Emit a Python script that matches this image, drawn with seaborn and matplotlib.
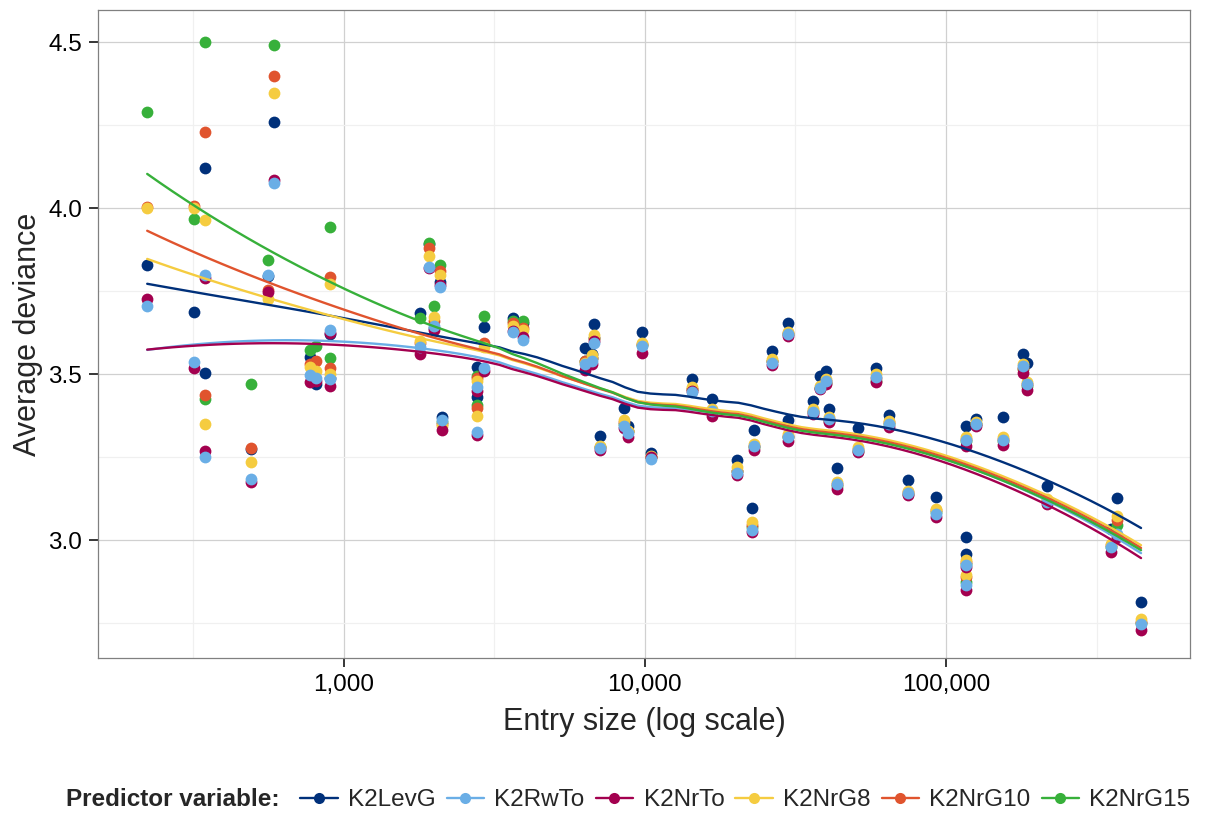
import numpy as np
import pandas as pd
import matplotlib
matplotlib.use("Agg")
import matplotlib.pyplot as plt
import seaborn as sns
from matplotlib.lines import Line2D
from matplotlib.ticker import FixedLocator, NullFormatter, FuncFormatter

# ---------------- data ----------------
predictors = ["K2LevG", "K2RwTo", "K2NrTo", "K2NrG8", "K2NrG10", "K2NrG15"]
colors = ["#00307a", "#6aaee6", "#a3004f", "#f5cc40", "#e0542e", "#37b03a"]

entry_size = [223, 319, 347, 347, 493, 588, 562, 774, 810, 902, 902,
              1795, 1922, 1997, 2091, 2123, 2774, 2774, 2927, 3652, 3943,
              6332, 6681, 6783, 7101, 8531, 8795, 9788, 10486, 14347, 16714,
              20230, 22692, 23040, 26435, 29880, 29880, 36165, 38150, 39940,
              40870, 43440, 50990, 58540, 64640, 74740, 92580, 116460, 116460,
              116460, 125700, 154500, 179960, 185550, 216200, 352600, 369200,
              443600]

k2levg = [3.828, 3.687, 4.121, 3.503, 3.274, 4.261, 3.795, 3.552, 3.470, 3.620, 3.490,
          3.684, 3.892, 3.640, 3.778, 3.371, 3.522, 3.432, 3.643, 3.670, 3.655,
          3.580, 3.560, 3.651, 3.313, 3.398, 3.343, 3.627, 3.262, 3.485, 3.425,
          3.241, 3.098, 3.331, 3.570, 3.655, 3.361, 3.420, 3.495, 3.510,
          3.395, 3.219, 3.339, 3.520, 3.376, 3.181, 3.131, 3.344, 3.010,
          2.960, 3.366, 3.370, 3.560, 3.534, 3.163, 3.035, 3.126,
          2.814]

k2rwto = [3.705, 3.537, 3.800, 3.250, 3.184, 4.077, 3.800, 3.497, 3.490, 3.633, 3.485,
          3.582, 3.823, 3.645, 3.762, 3.361, 3.462, 3.325, 3.520, 3.627, 3.602,
          3.530, 3.539, 3.595, 3.277, 3.343, 3.322, 3.584, 3.244, 3.447, 3.390,
          3.204, 3.032, 3.283, 3.535, 3.620, 3.311, 3.385, 3.460, 3.480,
          3.364, 3.171, 3.273, 3.492, 3.351, 3.143, 3.080, 3.301, 2.925,
          2.864, 3.351, 3.301, 3.524, 3.472, 3.115, 2.980, 3.020,
          2.749]

k2nrto = [3.726, 3.518, 3.790, 3.268, 3.175, 4.084, 3.748, 3.477, 3.480, 3.625, 3.464,
          3.560, 3.820, 3.633, 3.770, 3.331, 3.450, 3.316, 3.510, 3.630, 3.612,
          3.512, 3.530, 3.600, 3.271, 3.337, 3.310, 3.564, 3.250, 3.450, 3.375,
          3.196, 3.025, 3.271, 3.527, 3.614, 3.300, 3.380, 3.455, 3.470,
          3.355, 3.155, 3.265, 3.477, 3.340, 3.135, 3.070, 3.285, 2.920,
          2.850, 3.345, 3.288, 3.504, 3.454, 3.110, 2.965, 3.010,
          2.731]

k2nrg8 = [4.000, 4.000, 3.964, 3.349, 3.235, 4.348, 3.726, 3.522, 3.510, 3.771, 3.500,
          3.600, 3.855, 3.672, 3.800, 3.345, 3.480, 3.373, 3.582, 3.645, 3.633,
          3.535, 3.557, 3.617, 3.285, 3.361, 3.330, 3.594, 3.255, 3.461, 3.395,
          3.220, 3.055, 3.290, 3.545, 3.628, 3.320, 3.395, 3.465, 3.485,
          3.370, 3.175, 3.280, 3.500, 3.360, 3.150, 3.095, 3.310, 2.940,
          2.895, 3.355, 3.311, 3.530, 3.477, 3.125, 2.990, 3.073,
          2.764]

k2nrg10 = [4.004, 4.006, 4.230, 3.437, 3.277, 4.398, 3.755, 3.530, 3.540, 3.793, 3.518,
           3.593, 3.880, 3.660, 3.810, 3.350, 3.490, 3.400, 3.593, 3.655, 3.640,
           3.540, 3.550, 3.610, 3.280, 3.355, 3.330, 3.590, 3.250, 3.455, 3.390,
           3.210, 3.045, 3.285, 3.540, 3.625, 3.315, 3.390, 3.460, 3.480,
           3.365, 3.170, 3.275, 3.490, 3.355, 3.145, 3.090, 3.305, 2.935,
           2.890, 3.350, 3.305, 3.520, 3.470, 3.120, 2.985, 3.060,
           2.755]

k2nrg15 = [4.289, 3.967, 4.500, 3.425, 3.470, 4.491, 3.844, 3.572, 3.585, 3.944, 3.548,
           3.669, 3.895, 3.705, 3.828, 3.355, 3.494, 3.407, 3.676, 3.660, 3.661,
           3.540, 3.550, 3.610, 3.280, 3.350, 3.330, 3.588, 3.250, 3.455, 3.385,
           3.210, 3.040, 3.280, 3.540, 3.620, 3.310, 3.385, 3.460, 3.475,
           3.360, 3.165, 3.270, 3.480, 3.350, 3.140, 3.085, 3.300, 2.930,
           2.875, 3.350, 3.300, 3.515, 3.465, 3.118, 2.980, 3.045,
           2.750]

series = {"K2LevG": k2levg, "K2RwTo": k2rwto, "K2NrTo": k2nrto,
          "K2NrG8": k2nrg8, "K2NrG10": k2nrg10, "K2NrG15": k2nrg15}

df = pd.concat([pd.DataFrame({"size": entry_size, "deviance": v, "predictor": k})
                for k, v in series.items()], ignore_index=True)
palette = dict(zip(predictors, colors))


# ---------------- loess smoother (as ggplot geom_smooth, span .75, degree 2) ----------------
def loess(x, y, xs, span=0.75):
    x = np.asarray(x, float)
    y = np.asarray(y, float)
    n = len(x)
    q = int(np.floor(n * span))
    out = []
    for x0 in xs:
        d = np.abs(x - x0)
        h = np.sort(d)[q - 1]
        w = np.clip(1 - (d / h) ** 3, 0, None) ** 3
        X = np.column_stack([np.ones(n), x - x0, (x - x0) ** 2])
        sw = np.sqrt(w)
        beta = np.linalg.lstsq(X * sw[:, None], y * sw, rcond=None)[0]
        out.append(beta[0])
    return np.array(out)


lx = np.log10(np.asarray(entry_size, float))
grid = np.linspace(lx.min(), lx.max(), 80)
smooth = pd.concat([pd.DataFrame({"size": 10 ** grid,
                                  "deviance": loess(lx, series[p], grid),
                                  "predictor": p}) for p in predictors],
                   ignore_index=True)

# ---------------- figure ----------------
sns.set_theme(style="white")
plt.rcParams["font.family"] = ["Liberation Sans", "DejaVu Sans"]

fig = plt.figure(figsize=(12.18, 8.14), dpi=100)
ax = fig.add_axes([98 / 1218, 1 - 658 / 814, (1190 - 98) / 1218, (658 - 10) / 814])
ax.set_xscale("log")

draw_order = ["K2LevG", "K2NrG15", "K2NrG10", "K2NrG8", "K2NrTo", "K2RwTo"]
for p in draw_order:
    sns.scatterplot(data=df[df.predictor == p], x="size", y="deviance", color=palette[p],
                    s=72, linewidth=0, ax=ax, legend=False, zorder=3)
for p in predictors:
    sns.lineplot(data=smooth[smooth.predictor == p], x="size", y="deviance",
                 color=palette[p], lw=1.7, ax=ax, legend=False, zorder=4,
                 estimator=None, sort=False)

ax.set_xlim(10 ** 2.185, 10 ** 5.8095)
ax.set_ylim(4.5 - (658 - 42.3) / 332, 4.5 + (42.3 - 10) / 332)

ax.xaxis.set_major_locator(FixedLocator([1e3, 1e4, 1e5]))
ax.xaxis.set_major_formatter(FuncFormatter(lambda v, p: f"{int(round(v)):,}"))
ax.xaxis.set_minor_locator(FixedLocator([10 ** 2.5, 10 ** 3.5, 10 ** 4.5, 10 ** 5.5]))
ax.xaxis.set_minor_formatter(NullFormatter())
ax.yaxis.set_major_locator(FixedLocator([3.0, 3.5, 4.0, 4.5]))
ax.yaxis.set_major_formatter(FuncFormatter(lambda v, p: f"{v:.1f}"))
ax.yaxis.set_minor_locator(FixedLocator([2.75, 3.25, 3.75, 4.25]))

ax.grid(which="major", color="#d0d0d0", lw=0.9)
ax.grid(which="minor", color="#f0f0f0", lw=0.9)
ax.set_axisbelow(True)
for s in ax.spines.values():
    s.set_color("#808080")
    s.set_linewidth(0.9)
ax.tick_params(which="major", length=6.5, width=1.1, color="black",
               labelsize=17.5, labelcolor="black", direction="out",
               bottom=True, left=True)
ax.tick_params(axis="x", which="major", pad=5)
ax.tick_params(axis="y", which="major", pad=5)
ax.tick_params(which="minor", length=0)

ax.set_xlabel("Entry size (log scale)", fontsize=22, va="center")
ax.set_ylabel("Average deviance", fontsize=22, va="center")
ax.xaxis.set_label_coords(0.5, -(722 - 658) / 648)
ax.yaxis.set_label_coords(-(98 - 28) / 1092, 0.5)

# legend at bottom
handles = [Line2D([0], [0], color=c, lw=1.7, marker="o", markersize=8,
                  markeredgewidth=0) for c in colors]
fig.text(66 / 1218, 1 - 800 / 814, "Predictor variable:", fontsize=17.5,
         fontweight="bold", va="center", ha="left")
fig.legend(handles, predictors, loc="center left",
           bbox_to_anchor=(300 / 1218, 1 - 800 / 814), ncol=6, frameon=False,
           fontsize=17.5, handlelength=1.55, handletextpad=0.42,
           columnspacing=0.45, borderaxespad=0, borderpad=0)

fig.savefig("out.png", dpi=100)
